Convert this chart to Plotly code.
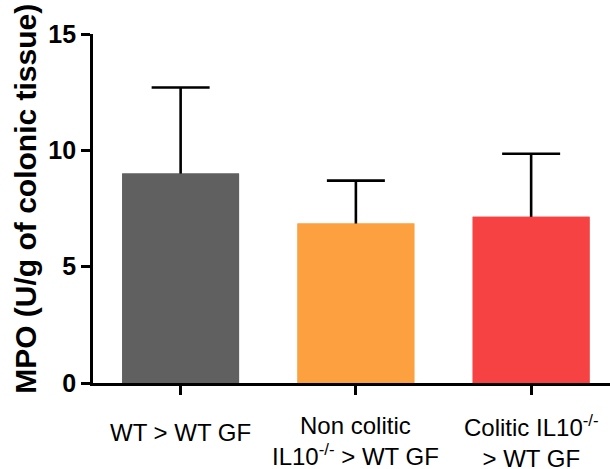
import plotly.graph_objects as go

categories = ["WT > WT GF", "Non colitic<br>IL10<sup>-/-</sup> > WT GF", "Colitic IL10<sup>-/-</sup><br>> WT GF"]
means = [9.0, 6.85, 7.15]
sem = [3.7, 1.85, 2.7]
colors = ["#606060", "#FCA040", "#F64242"]
y_ticks = [0, 5, 10, 15]
y_title = "MPO (U/g of colonic tissue)"

xs = list(range(len(categories)))
fig = go.Figure()
# bars carrying the (upper) error bars
fig.add_trace(go.Bar(
    x=xs, y=means, width=0.667,
    marker=dict(color=colors, line=dict(width=0)),
    error_y=dict(type="data", symmetric=False, array=sem, arrayminus=[0.3] * len(sem),
                 color="black", thickness=2.6, width=29),
    showlegend=False, hoverinfo="skip",
))
# same bars drawn again on top to hide the lower part of the error bars
fig.add_trace(go.Bar(
    x=xs, y=means, width=0.667,
    marker=dict(color=colors, line=dict(width=0)),
    showlegend=False,
))

# category labels under the axis
label_shift = [-49, -58, -58]
for i, lab in enumerate(categories):
    fig.add_annotation(x=i, xref="x", y=0, yref="paper", yanchor="middle", xanchor="center",
                       yshift=label_shift[i], text=lab, showarrow=False,
                       font=dict(family="Liberation Sans, Arial", size=24, color="black"))

fig.add_annotation(x=-0.132, xref="paper", y=0.527, yref="paper", text="<b>" + y_title + "</b>",
                   textangle=-90, showarrow=False, xanchor="center", yanchor="middle",
                   font=dict(family="Liberation Sans, Arial", size=30, color="black"))

fig.update_layout(
    width=610, height=469,
    barmode="overlay",
    margin=dict(l=93, r=0, t=34, b=86),
    plot_bgcolor="white", paper_bgcolor="white",
    xaxis=dict(range=[-0.5, 2.45], tickvals=xs, showticklabels=False,
               ticks="outside", ticklen=9, tickwidth=2.6, tickcolor="black",
               showline=True, linecolor="black", linewidth=2.8, showgrid=False, zeroline=False),
    yaxis=dict(range=[0, 15], tickvals=y_ticks, ticks="outside", ticklen=9, tickwidth=2.6,
               tickcolor="black", showline=True, linecolor="black", linewidth=2.8,
               showgrid=False, zeroline=False,
               tickfont=dict(family="Liberation Sans, Arial", size=25, color="black", weight="bold")),
)

fig.write_html("out.html", config={"displayModeBar": False},
               post_script="document.body.style.margin='0';document.body.style.overflow='hidden';")
